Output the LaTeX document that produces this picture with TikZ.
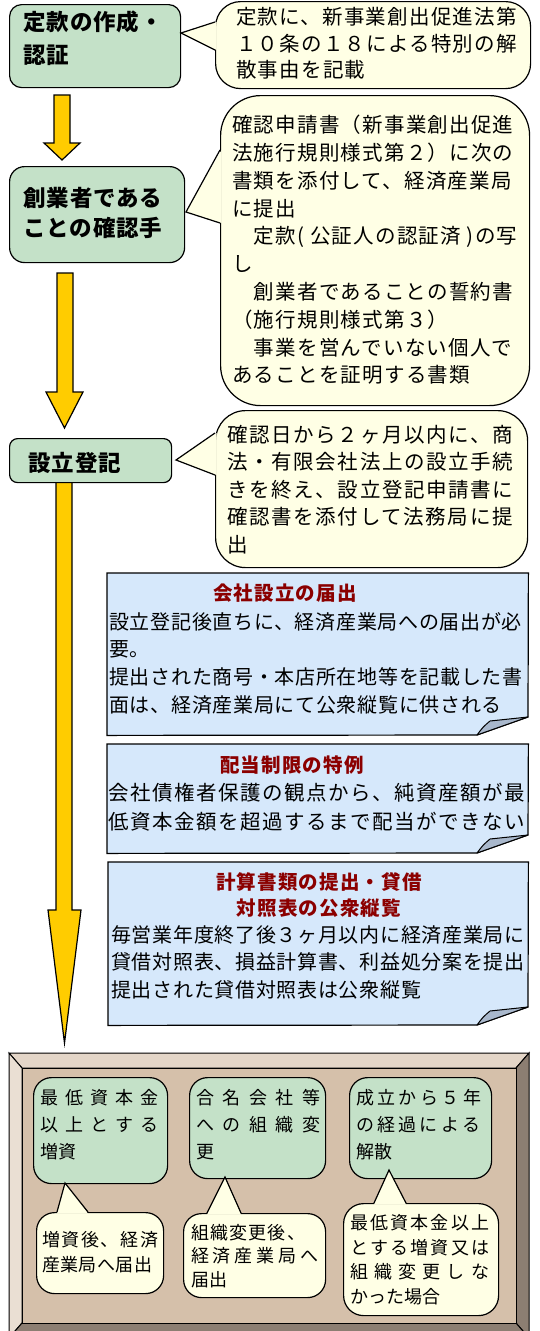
\documentclass[tikz,border=0pt]{standalone}
\usepackage{fontspec}
\newfontfamily\jp{Noto Sans CJK JP}
\definecolor{boxgreen}{HTML}{C4E1C8}
\definecolor{bubfill}{HTML}{FFFFE5}
\definecolor{notefill}{HTML}{D6E8FB}
\definecolor{foldfill}{HTML}{A9B8CC}
\definecolor{arrowyel}{HTML}{FFCC00}
\definecolor{titlered}{HTML}{8B0000}
\definecolor{panel}{HTML}{D5C0AA}
\definecolor{bevtop}{HTML}{E4D6C8}
\definecolor{bevleft}{HTML}{EADFD3}
\definecolor{bevdark}{HTML}{8C7E72}
\newcommand\spr[2]{\hbox to #1pt{#2}}
\tikzset{
 greenbox/.style={draw=black, line width=1.2pt, fill=boxgreen, rectangle, inner sep=0pt, anchor=north west},
 bubble/.style={draw=black, line width=1.2pt, fill=bubfill, rectangle, inner sep=0pt, anchor=north west},
 tailline/.style={draw=black, line width=1.2pt, line join=miter},
 blockarrow/.style={draw=black, line width=1.2pt, fill=arrowyel, line join=miter},
 notebox/.style={draw=black, line width=1.2pt, fill=notefill, line join=miter},
 notearea/.style={rectangle, inner sep=0pt, anchor=north west},
 fold/.style={draw=black, line width=1pt, fill=foldfill, line join=round},
 bevel/.style={draw=black, line width=1pt, line join=miter},
 titletxt/.style={inner sep=0pt, anchor=north west, align=left, font=\jp\bfseries\addfontfeature{LetterSpace=4}\fontsize{22.5}{33}\selectfont},
 bubtxt/.style={inner sep=0pt, anchor=north west, align=left, font=\jp\addfontfeature{LetterSpace=6}\fontsize{20.5}{27.5}\selectfont},
 notetitle/.style={inner sep=0pt, align=center, text=titlered, font=\jp\bfseries\addfontfeature{LetterSpace=6}\fontsize{19.5}{26}\selectfont},
 notetxt/.style={inner sep=0pt, anchor=north west, align=left, font=\jp\addfontfeature{LetterSpace=3.5}\fontsize{20}{27.7}\selectfont},
 smalltxt/.style={inner sep=0pt, anchor=north west, align=left, font=\jp\fontsize{18}{27}\selectfont},
}
\begin{document}
\begin{tikzpicture}[x=1pt,y=-1pt]
\useasboundingbox (0,0) rectangle (540,1331);
\clip (0,0) rectangle (540,1331);

% ---------- block arrows ----------
\draw[blockarrow] (54,95) -- (70,95) -- (70,143) -- (80,143) -- (62,160) -- (44,143) -- (54,143) -- cycle;
\draw[blockarrow] (57,273) -- (73,273) -- (73,392) -- (83,392) -- (64.5,428) -- (46,392) -- (57,392) -- cycle;
\draw[blockarrow] (56,478) -- (72,478) -- (72,910) -- (81,910) -- (64.5,1043) -- (48,910) -- (56,910) -- cycle;

% ---------- step boxes ----------
\node[greenbox, rounded corners=12pt, minimum width=171pt, minimum height=83pt] (b1) at (9,4) {};
\node[titletxt] (b1t) at (23,11) {定款の作成・\\認証};

\node[greenbox, rounded corners=15pt, minimum width=175pt, minimum height=96pt] (b2) at (9,166) {};
\node[titletxt, font=\jp\bfseries\addfontfeature{LetterSpace=4}\fontsize{22.5}{30}\selectfont] (b2t) at (23,187) {創業者である\\ことの確認手};

\node[greenbox, rounded corners=8pt, minimum width=162pt, minimum height=44pt] (b3) at (9,438) {};
\node[titletxt] (b3t) at (28,452) {設立登記};

% ---------- bubble 1 ----------
\node[bubble, rounded corners=25pt, minimum width=315pt, minimum height=87pt] (c1) at (215,1) {};
\coordinate (c1tip) at (181,33);
\fill[bubfill] (216.5,22) -- (c1tip) -- (216.5,50) -- cycle;
\draw[tailline] (215,22) -- (c1tip) -- (215,50);
\node[bubtxt, font=\jp\addfontfeature{LetterSpace=6}\fontsize{20.5}{26.5}\selectfont] (c1t) at (236,7) {定款に、新事業創出促進法第\\１０条の１８による特別の解\\散事由を記載};

% ---------- bubble 2 ----------
\node[bubble, rounded corners=40pt, minimum width=309pt, minimum height=310pt] (c2) at (220,95) {};
\coordinate (c2tip) at (186,212);
\fill[bubfill] (221.5,150) -- (c2tip) -- (221.5,223) -- cycle;
\draw[tailline] (220,150) -- (c2tip) -- (220,223);
\node[bubtxt, font=\jp\addfontfeature{LetterSpace=6}\fontsize{20.5}{27.8}\selectfont] (c2t) at (232,115) {確認申請書（新事業創出促進\\法施行規則様式第２）に次の\\書類を添付して、経済産業局\\に提出\\　定款( 公証人の認証済 )の写\\し\\　創業者であることの誓約書\\（施行規則様式第３）\\　事業を営んでいない個人で\\あることを証明する書類};

% ---------- bubble 3 ----------
\node[bubble, rounded corners=30pt, minimum width=312pt, minimum height=157pt] (c3) at (215,410) {};
\coordinate (c3tip) at (176,460);
\fill[bubfill] (216.5,433) -- (c3tip) -- (216.5,475) -- cycle;
\draw[tailline] (215,433) -- (c3tip) -- (215,475);
\node[bubtxt, font=\jp\addfontfeature{LetterSpace=8}\fontsize{20.5}{27.5}\selectfont] (c3t) at (227,425) {確認日から２ヶ月以内に、商\\法・有限会社法上の設立手続\\きを終え、設立登記申請書に\\確認書を添付して法務局に提\\出};

% ---------- note 1 ----------
\node[notearea, minimum width=421pt, minimum height=162pt] (n1) at (107,573) {};
\draw[notebox] (n1.north west) -- (n1.north east) -- (528,717) -- (477,735) -- (n1.south west) -- cycle;
\filldraw[fold] (477,735) .. controls (483,727) .. (490,721) -- (528,717) -- cycle;
\node[notetitle] (n1h) at (285,593) {会社設立の届出};
\node[notetxt] (n1b) at (109,612) {設立登記後直ちに、経済産業局への届出が必\\要。\\提出された商号・本店所在地等を記載した書\\面は、経済産業局にて公衆縦覧に供される};

% ---------- note 2 ----------
\node[notearea, minimum width=421pt, minimum height=109pt] (n2) at (107,744) {};
\draw[notebox] (n2.north west) -- (n2.north east) -- (528,835) -- (477,853) -- (n2.south west) -- cycle;
\filldraw[fold] (477,853) .. controls (483,845) .. (490,839) -- (528,835) -- cycle;
\node[notetitle] (n2h) at (292,765) {配当制限の特例};
\node[notetxt, font=\jp\addfontfeature{LetterSpace=7.5}\fontsize{20.5}{28.5}\selectfont] (n2b) at (108,783) {会社債権者保護の観点から、純資産額が最\\低資本金額を超過するまで配当ができない};

% ---------- note 3 ----------
\node[notearea, minimum width=420pt, minimum height=163pt] (n3) at (108,862) {};
\draw[notebox] (n3.north west) -- (n3.north east) -- (528,1007) -- (477,1025) -- (n3.south west) -- cycle;
\filldraw[fold] (477,1025) .. controls (483,1017) .. (490,1011) -- (528,1007) -- cycle;
\node[notetitle] (n3h) at (319,895) {計算書類の提出・貸借\\対照表の公衆縦覧};
\node[notetxt] (n3b) at (111,925) {毎営業年度終了後３ヶ月以内に経済産業局に\\貸借対照表、損益計算書、利益処分案を提出\\提出された貸借対照表は公衆縦覧};

% ---------- bottom frame ----------
\filldraw[bevel, fill=bevtop] (9,1053) -- (529,1053) -- (516,1068) -- (22,1068) -- cycle;
\filldraw[bevel, fill=bevleft] (9,1053) -- (22,1068) -- (22,1323) -- (9,1338) -- cycle;
\filldraw[bevel, fill=bevdark] (529,1053) -- (529,1338) -- (516,1323) -- (516,1068) -- cycle;
\filldraw[bevel, fill=bevdark] (9,1338) -- (22,1323) -- (516,1323) -- (529,1338) -- cycle;
\node[rectangle, draw=black, line width=1pt, fill=panel, inner sep=0pt, minimum width=494pt, minimum height=255pt, anchor=north west] (frame) at (22,1068) {};

% green boxes in frame
\node[greenbox, rounded corners=18pt, minimum width=134pt, minimum height=106pt] (g1) at (33,1077) {};
\node[smalltxt] (g1t) at (40,1089) {\spr{118}{最\hfil 低\hfil 資\hfil 本\hfil 金}\\\spr{118}{以\hfil 上\hfil と\hfil す\hfil る}\\増資};

\node[greenbox, rounded corners=18pt, minimum width=136pt, minimum height=101pt] (g2) at (189,1077) {};
\node[smalltxt] (g2t) at (196,1089) {\spr{124}{合\hfil 名\hfil 会\hfil 社\hfil 等}\\\spr{124}{へ\hfil の\hfil 組\hfil 織\hfil 変}\\更};

\node[greenbox, rounded corners=18pt, minimum width=142pt, minimum height=101pt] (g3) at (349,1077) {};
\node[smalltxt] (g3t) at (356,1089) {\spr{125}{成\hfil 立\hfil か\hfil ら\hfil ５\hfil 年}\\\spr{124}{の\hfil 経\hfil 過\hfil に\hfil よ\hfil る}\\解散};

% bubbles in frame
\node[bubble, rounded corners=18pt, minimum width=127pt, minimum height=81pt] (d1) at (36,1212) {};
\coordinate (d1tip) at (65,1183);
\fill[bubfill] (57,1213.5) -- (d1tip) -- (88,1213.5) -- cycle;
\draw[tailline] (57,1212) -- (d1tip) -- (88,1212);
\node[smalltxt, font=\jp\fontsize{18}{25}\selectfont] (d1t) at (42,1231) {\spr{116}{増\hfil 資\hfil 後\hfil 、\hfil 経\hfil 済}\\\spr{110}{産\hfil 業\hfil 局\hfil へ\hfil 届\hfil 出}};

\node[bubble, rounded corners=18pt, minimum width=142pt, minimum height=84pt] (d2) at (183,1213) {};
\coordinate (d2tip) at (225,1177);
\fill[bubfill] (207,1214.5) -- (d2tip) -- (241,1214.5) -- cycle;
\draw[tailline] (207,1213) -- (d2tip) -- (241,1213);
\node[smalltxt, font=\jp\fontsize{18}{23.5}\selectfont] (d2t) at (191,1224) {\spr{114}{組\hfil 織\hfil 変\hfil 更\hfil 後\hfil 、}\\\spr{127}{経\hfil 済\hfil 産\hfil 業\hfil 局\hfil へ}\\届出};

\node[bubble, rounded corners=20pt, minimum width=155pt, minimum height=112pt] (d3) at (343,1203) {};
\coordinate (d3tip) at (389,1170);
\fill[bubfill] (374,1204.5) -- (d3tip) -- (406,1204.5) -- cycle;
\draw[tailline] (374,1203) -- (d3tip) -- (406,1203);
\node[smalltxt, font=\jp\fontsize{18}{24.7}\selectfont] (d3t) at (350,1214) {\spr{139}{最\hfil 低\hfil 資\hfil 本\hfil 金\hfil 以\hfil 上}\\\spr{139}{と\hfil す\hfil る\hfil 増\hfil 資\hfil 又\hfil は}\\\spr{139}{組\hfil 織\hfil 変\hfil 更\hfil し\hfil な}\\かった場合};

\end{tikzpicture}
\end{document}
